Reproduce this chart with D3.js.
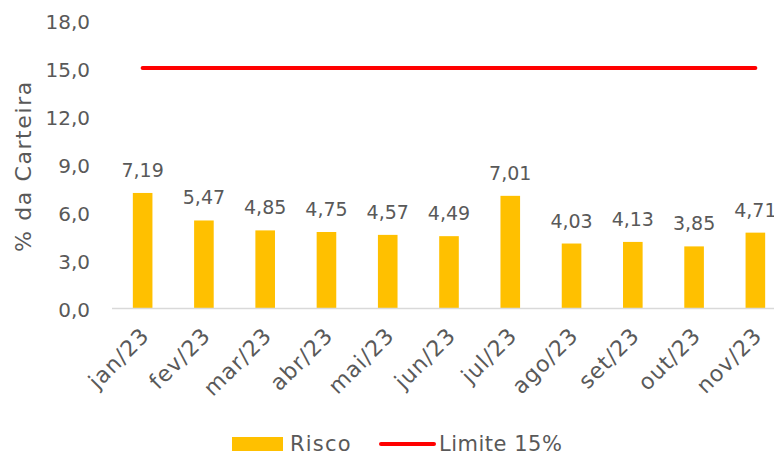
<!DOCTYPE html>
<html><head><meta charset="utf-8">
<script src="https://cdn.jsdelivr.net/npm/d3@7"></script>
<style>body{margin:0;background:#fff}text{font-family:"DejaVu Sans",sans-serif;fill:#595959}</style>
</head><body><svg id="c" width="774" height="456"></svg>
<script>
const categories=["jan/23","fev/23","mar/23","abr/23","mai/23","jun/23","jul/23","ago/23","set/23","out/23","nov/23"];
const risco=[7.19,5.47,4.85,4.75,4.57,4.49,7.01,4.03,4.13,3.85,4.71];
const limite=[15,15,15,15,15,15,15,15,15,15,15];
const yTicks=[0,3,6,9,12,15,18];
const svg=d3.select("#c");
const FF="DejaVu Sans";
const fmt=v=>v.toFixed(1).replace(".",",");
const fmt2=v=>v.toFixed(2).replace(".",",");
const x=d3.scaleBand().domain(categories).range([112,786]).paddingInner(0.68).paddingOuter(0.34);
const y=d3.scaleLinear().domain([0,18]).range([308,20]);
const cx=c=>x(c)+x.bandwidth()/2;
// y axis labels
const ya=svg.append("g").attr("transform","translate(90,2)").call(d3.axisLeft(y).tickValues(yTicks).tickFormat(fmt).tickSize(0));
ya.select(".domain").remove();
ya.selectAll("text").attr("x",0).style("font-size","20px").style("fill","#595959").style("font-family",FF);
svg.append("text").attr("transform","translate(31,166) rotate(-90)").attr("text-anchor","middle").style("font-size","22px").style("letter-spacing","1.6px").text("% da Carteira");
// bars
svg.selectAll(".bar").data(risco).enter().append("rect").attr("x",(d,i)=>x(categories[i])).attr("width",x.bandwidth()).attr("y",d=>y(d)).attr("height",d=>y(0)-y(d)).attr("fill","#FFC000");
// x axis
svg.append("line").attr("x1",112).attr("x2",786).attr("y1",308.5).attr("y2",308.5).attr("stroke","#d9d9d9").attr("stroke-width",1.5);
const xa=svg.append("g").call(d3.axisBottom(x).tickSize(0));
xa.select(".domain").remove();
xa.selectAll(".tick").attr("transform",d=>`translate(${cx(d)+8},337)`);
xa.selectAll("text").attr("transform","rotate(-45)").attr("text-anchor","end").attr("dy",0).attr("y",0).style("font-size","22px").style("letter-spacing","1px").style("fill","#595959").style("font-family",FF);
// data labels
svg.selectAll(".lbl").data(risco).enter().append("text").attr("x",(d,i)=>cx(categories[i])).attr("y",d=>y(d)-16).attr("text-anchor","middle").style("font-size","19px").text(fmt2);
// limit line
const line=d3.line().x((d,i)=>cx(categories[i])).y(d=>y(d));
svg.append("path").datum(limite).attr("d",line).attr("fill","none").attr("stroke","#FF0000").attr("stroke-width",4).attr("stroke-linecap","round");
// legend
const lg=svg.append("g");
lg.append("rect").attr("x",232).attr("y",437).attr("width",51).attr("height",14).attr("fill","#FFC000");
lg.append("text").attr("x",290).attr("y",451).style("font-size","21px").style("letter-spacing","1.2px").text("Risco");
lg.append("line").attr("x1",381).attr("x2",434).attr("y1",444).attr("y2",444).attr("stroke","#FF0000").attr("stroke-width",4).attr("stroke-linecap","round");
lg.append("text").attr("x",439).attr("y",451).style("font-size","21px").style("letter-spacing","0.5px").text("Limite 15%");
</script></body></html>
